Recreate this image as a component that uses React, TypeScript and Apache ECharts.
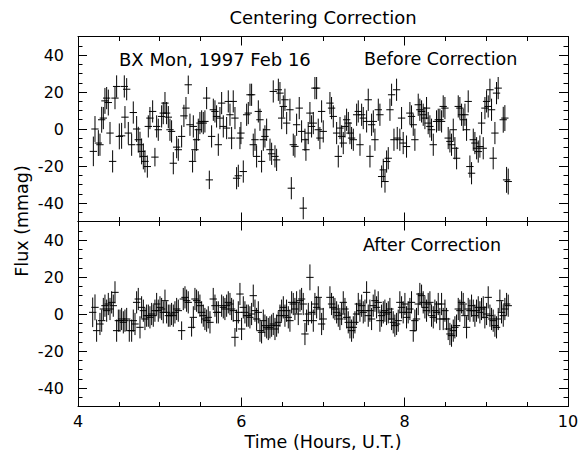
import React, { useEffect, useRef } from "react";
import * as echarts from "echarts";

// [time (hours UT), flux (mmag), error (mmag)]
const before: [number, number, number][] = [
  [4.188,-12.1,8],[4.208,0,7],[4.249,-7.6,7],[4.269,-8.5,6],[4.290,5.0,7],[4.310,5.9,6],[4.330,15.2,7],[4.351,16.7,6],[4.371,14.3,7],[4.392,-2.2,6],
  [4.424,-17.5,6],[4.453,16.7,6],[4.473,23.0,6],[4.506,-4.0,7],[4.534,-3.7,7],[4.567,23.0,6],[4.575,6.4,6],[4.596,21.5,6],[4.616,-2.2,6],[4.657,-8.5,6],
  [4.677,8.9,6],[4.718,0,7],[4.738,-5.8,7],[4.759,-8.5,7],[4.779,-12.1,7],[4.800,-14.8,7],[4.820,-17.5,6],[4.849,-20.3,6],[4.861,1.4,6],[4.881,5.9,6],
  [4.914,9.5,6],[4.942,-15.2,5],[4.963,1.4,6],[4.983,-0.4,6],[5.024,6.8,6],[5.044,8.6,6],[5.065,14.0,6],[5.085,8.6,6],[5.106,6.4,6],[5.126,-0.4,6],
  [5.146,-1.3,6],[5.167,-18.5,6],[5.208,-9.8,6],[5.228,-11.2,6],
  [5.269,-4.0,6],[5.297,7.1,6],[5.322,11.3,6],[5.350,23.9,5],[5.371,2.3,6],[5.403,-17.5,6],[5.412,1.4,6],[5.432,-11.2,6],[5.452,-5.8,6],[5.473,-0.4,6],
  [5.493,3.2,6],[5.514,4.1,6],[5.534,3.2,6],[5.554,4.1,6],[5.575,16.7,6],[5.608,-27.5,5],[5.636,-4.0,6],[5.657,10.4,6],[5.677,9.5,6],[5.697,6.8,6],
  [5.718,-8.5,6],[5.738,5.9,6],[5.759,14.0,6],[5.779,1.4,6],[5.820,0.5,6],[5.840,14.9,6],[5.861,7.7,6],[5.881,-4.9,6],[5.901,14.9,6],[5.922,5.9,6],
  [5.942,-26.6,6],[5.963,-25.3,6],[5.983,-4.9,6],[5.995,-2.2,6],[6.024,-23.0,6],[6.065,7.7,6],[6.085,8.6,6],[6.106,18.5,6],[6.126,18.5,6],[6.146,-8.5,6],
  [6.167,-5.8,6],[6.187,-14.8,6],[6.208,9.5,6],[6.228,5.0,6],[6.248,-17.5,6],[6.269,-5.8,6],[6.289,-4.0,6],[6.310,-0.4,6],[6.351,-11.2,6],[6.371,-13.4,6],
  [6.391,20.3,6],[6.412,-14.8,6],[6.432,-16.7,6],[6.453,21.2,6],[6.473,19.4,6],[6.494,5.9,6],[6.514,12.2,6],[6.534,15.8,6],[6.555,3.2,6],[6.612,-32.0,6],
  [6.595,10.4,6],[6.636,-8.5,6],[6.656,-9.4,6],[6.677,2.3,6],[6.709,11.3,6],[6.738,-1.3,6],[6.758,-42.8,6],[6.779,-5.8,6],[6.791,-11.2,6],[6.819,-2.2,6],
  [6.840,8.6,6],[6.860,1.4,6],[6.881,3.2,6],[6.901,22.1,6],[6.922,22.1,6],[6.942,-0.4,6],[6.962,-4.9,6],[6.983,9.5,6],[7.003,-1.3,6],[7.085,14.0,6],
  [7.105,11.3,6],[7.126,6.8,6],[7.167,-2.2,6],[7.187,-14.8,6],[7.208,0.5,6],[7.228,-4.0,6],[7.248,-7.6,6],[7.269,1.4,6],[7.289,5.0,6],[7.310,3.2,6],
  [7.330,-2.2,6],[7.350,-4.9,6],[7.371,-5.8,6],[7.412,7.7,6],[7.432,9.5,6],[7.453,-8.5,6],[7.473,7.7,6],[7.493,5.9,6],[7.534,4.1,6],[7.554,15.8,6],
  [7.575,-14.8,6],[7.595,2.3,6],[7.616,4.1,6],[7.636,-5.8,6],[7.677,10.4,6],[7.697,7.7,6],[7.718,-25.7,6],[7.738,-22.1,6],[7.759,-28.4,6],[7.779,-17.6,6],
  [7.799,-15.8,6],[7.820,10.4,6],[7.840,18.5,6],[7.869,-5.8,6],[7.901,21.2,6],[7.909,-4.9,6],
  [7.941,-5.8,6],[7.962,5.9,6],[7.982,-7.6,6],[8.023,-9.5,6],[8.064,8.6,6],[8.084,6.8,6],[8.105,2.3,6],[8.125,-5.8,6],[8.166,13.1,6],[8.186,10.4,6],
  [8.207,9.5,6],[8.227,7.7,6],[8.248,5.9,6],[8.268,11.3,6],[8.288,3.2,6],[8.309,1.4,6],[8.329,-0.4,6],[8.350,-8.5,6],[8.390,4.1,6],[8.411,5.0,6],
  [8.431,5.0,6],[8.452,4.1,6],[8.472,12.2,6],[8.493,11.3,6],[8.533,-4.9,6],[8.554,-6.7,6],[8.574,-8.5,6],[8.595,-0.4,6],[8.615,-10.4,6],[8.636,-15.8,6],
  [8.656,12.2,6],[8.676,11.3,6],[8.697,7.7,6],[8.717,5.0,6],[8.738,7.7,6],[8.758,-0.4,6],[8.778,14.9,6],[8.799,-20.3,6],[8.819,-23.9,6],[8.840,-5.8,6],
  [8.860,-7.6,6],[8.881,-10.4,6],[8.901,-12.2,6],[8.921,-9.5,6],[8.942,3.2,6],[8.962,-10.4,6],[8.983,11.3,6],[9.003,14.9,6],[9.023,12.2,6],[9.044,21.2,6],
  [9.064,10.4,6],[9.084,-15.8,6],[9.105,-2.2,6],[9.125,19.4,6],[9.145,22.1,6],[9.207,5.0,7],[9.227,5.9,7],[9.248,-27.5,7],[9.268,-28.4,7],
];

const after: [number, number, number][] = [
  [4.180,0.9,8],[4.208,3.6,7],[4.228,-9.0,6],[4.269,-5.4,6],[4.290,-3.6,6],[4.310,2.7,6],[4.330,4.5,6],[4.351,1.8,6],[4.371,5.4,6],[4.392,2.7,6],
  [4.412,6.3,6],[4.432,4.5,6],[4.453,11.7,6],[4.473,-9.0,6],[4.494,-3.6,6],[4.514,-3.6,6],[4.534,-2.7,6],[4.555,-4.5,6],[4.575,-3.6,6],[4.596,-2.7,6],
  [4.628,-9.0,6],[4.657,-9.0,6],[4.677,-3.6,6],[4.698,-5.4,6],[4.718,6.3,6],[4.738,8.1,6],[4.759,-7.2,6],[4.779,3.6,6],[4.800,1.8,6],[4.820,-2.7,6],
  [4.840,-0.9,6],[4.861,-0.9,6],[4.881,-1.8,6],[4.902,0,6],[4.922,-0.9,6],[4.942,1.8,6],[4.963,5.4,6],[4.983,1.8,6],[5.004,3.6,6],[5.024,2.7,6],
  [5.044,0.9,6],[5.065,7.2,6],[5.085,0.9,6],[5.106,-0.9,6],[5.126,-0.9,6],[5.146,0,6],[5.167,-0.9,6],[5.187,0.9,6],[5.208,2.7,6],[5.228,1.8,6],
  [5.269,-9.0,5],[5.289,8.1,6],[5.310,9.0,6],[5.330,7.2,6],[5.350,6.3,6],[5.391,-7.2,5],[5.412,-1.8,6],[5.432,8.1,6],[5.452,7.2,6],[5.473,6.3,6],
  [5.493,4.5,6],[5.514,0.9,6],[5.534,-0.9,6],[5.554,-2.7,6],[5.575,-3.6,6],[5.595,-1.8,6],[5.616,-4.5,6],[5.656,8.1,6],[5.677,4.5,6],[5.697,0.9,6],
  [5.718,0.9,6],
  [5.759,4.5,6],[5.779,3.6,6],[5.799,2.7,6],[5.820,4.5,6],[5.840,6.3,6],[5.861,5.4,6],[5.881,2.7,6],[5.901,1.8,6],[5.922,-12.6,5],[5.942,-3.6,6],
  [5.963,0.9,6],[5.983,10.8,6],[6.003,-8.1,6],[6.024,3.6,6],[6.044,0.9,6],[6.065,-0.9,6],[6.085,-0.9,6],[6.105,-1.8,6],[6.126,0,6],[6.146,9.9,6],
  [6.167,1.8,6],[6.187,-2.7,6],[6.208,0.9,6],[6.228,-9.0,6],[6.248,-9.9,6],[6.269,-3.6,6],[6.289,-6.3,6],[6.310,-7.2,6],[6.330,-8.1,6],[6.350,-7.2,6],
  [6.371,-6.3,6],[6.391,-5.4,6],[6.412,-8.1,6],[6.432,-6.3,6],[6.452,-4.5,6],[6.473,-0.9,6],[6.493,1.8,6],[6.514,3.6,6],[6.534,-0.9,6],[6.554,1.8,6],
  [6.575,-1.8,6],[6.595,-3.6,6],[6.616,6.3,6],[6.636,5.4,6],[6.656,2.7,6],[6.677,6.3,6],[6.697,0,6],[6.718,7.2,6],[6.738,8.1,6],[6.758,5.4,6],
  [6.779,-10.8,6],[6.799,-3.6,6],[6.820,0,6],[6.840,19.8,7],[6.860,0.9,6],[6.881,-3.6,6],[6.901,5.4,6],[6.922,3.6,6],[6.942,9.0,6],[6.962,2.7,6],
  [6.983,-5.4,6],[7.003,-2.7,6],[7.085,9.0,6],[7.105,5.4,6],[7.126,3.6,6],[7.146,2.7,6],[7.167,0.9,6],[7.187,-0.9,6],[7.207,-2.7,6],[7.228,0,6],
  [7.248,6.3,6],[7.269,2.7,6],[7.289,-1.8,6],[7.309,-4.5,6],[7.330,-7.2,6],[7.350,-9.0,6],[7.371,-7.2,6],[7.391,-4.5,6],[7.411,0,6],[7.432,5.4,6],
  [7.452,1.8,6],[7.473,4.5,6],[7.493,0.9,6],[7.514,1.8,6],[7.534,11.7,6],[7.554,-0.9,6],
  [7.574,1.8,6],[7.595,-2.7,6],[7.615,4.5,6],[7.636,7.2,6],[7.656,3.6,6],[7.676,6.3,6],[7.697,-3.6,6],[7.717,-0.9,6],[7.738,0.9,6],[7.758,1.8,6],
  [7.778,0,6],[7.799,0.9,6],[7.819,2.7,6],[7.840,-2.7,6],[7.860,-4.5,6],[7.880,-6.3,6],[7.901,-5.4,6],[7.921,-3.6,6],[7.941,6.3,6],[7.962,3.6,6],
  [7.982,0.9,6],[8.003,5.4,6],[8.023,-1.8,6],[8.043,0.9,6],[8.064,2.7,6],[8.084,6.3,6],[8.105,-9.0,6],[8.125,-3.6,6],[8.145,-2.7,6],[8.166,5.4,6],
  [8.186,10.8,6],[8.207,9.9,6],[8.227,6.3,6],[8.248,3.6,6],[8.268,1.8,6],[8.288,5.4,6],[8.309,6.3,6],[8.329,-0.9,6],[8.350,-1.8,6],[8.370,1.8,6],
  [8.390,0.9,6],[8.411,5.4,6],[8.431,-2.7,6],[8.452,5.4,6],[8.472,-2.7,6],[8.493,1.8,6],[8.513,-2.7,6],[8.533,-8.1,6],[8.554,-10.8,6],[8.574,-11.7,6],
  [8.595,-9.0,6],[8.615,-7.2,6],[8.635,-6.3,6],[8.656,2.7,6],[8.676,1.8,6],[8.697,6.3,6],[8.717,5.4,6],[8.737,-0.9,6],[8.758,-7.2,6],[8.778,2.7,6],
  [8.799,1.8,6],[8.819,4.5,6],[8.840,1.8,6],[8.860,-0.9,6],[8.880,1.8,6],[8.901,3.6,6],[8.921,0.9,6],[8.941,2.7,6],[8.962,3.6,6],[8.982,-1.8,6],
  [9.003,0,6],[9.023,9.0,6],[9.044,-0.9,6],[9.064,-2.7,6],[9.084,-3.6,6],[9.105,-6.3,6],[9.125,-7.2,6],[9.146,-2.7,6],[9.166,7.2,6],[9.186,0.9,6],
  [9.207,-0.9,6],[9.227,2.7,6],[9.248,5.4,6],[9.268,4.5,6],
];

const xTicks = { min: 4, max: 10, interval: 2 };
const yRange = { min: -50, max: 50 };
const yLabelRange = { min: -40, max: 40, interval: 20 };

const TITLE = "Centering Correction";
const STAR = "BX Mon, 1997 Feb 16";
const TOP_LABEL = "Before Correction";
const BOTTOM_LABEL = "After Correction";
const X_NAME = "Time (Hours, U.T.)";
const Y_NAME = "Flux (mmag)";

const XERR = 0.045;
const FONT = "DejaVu Sans";

const LEFT = 78;
const WIDTH = 490;
const TOP1 = 36.5;
const H = 185;
const TOP2 = TOP1 + H;
const LBL_OFF = H * 0.1;
const LBL_H = H * 0.8;

function renderCross(params: any, api: any) {
  const t = api.value(0);
  const v = api.value(1);
  const e = api.value(2);
  const l = api.coord([t - XERR, v]);
  const r = api.coord([t + XERR, v]);
  const a = api.coord([t, v + e]);
  const b = api.coord([t, v - e]);
  const style = { stroke: "#000", lineWidth: 1 };
  return {
    type: "group",
    children: [
      { type: "line", shape: { x1: l[0], y1: l[1], x2: r[0], y2: r[1] }, style },
      { type: "line", shape: { x1: a[0], y1: a[1], x2: b[0], y2: b[1] }, style },
    ],
  };
}

export default function App() {
  const ref = useRef<HTMLDivElement>(null);
  useEffect(() => {
    if (!ref.current) return;
    const chart = echarts.init(ref.current, undefined, { renderer: "svg" });
    const axisLine = { show: true, onZero: false, lineStyle: { color: "#000", width: 1 } };
    const xTickAxis = (grid: number, pos: string, labels: boolean) => ({
      type: "value",
      gridIndex: grid,
      position: pos,
      min: xTicks.min,
      max: xTicks.max,
      interval: xTicks.interval,
      axisLine,
      axisTick: { show: true, inside: true, length: 9, lineStyle: { color: "#000" } },
      minorTick: { show: true, splitNumber: 4, length: 4.5, lineStyle: { color: "#000" } },
      splitLine: { show: false },
      axisLabel: labels
        ? { show: true, color: "#000", fontFamily: FONT, fontSize: 16, margin: 7 }
        : { show: false },
    });
    const yMinorAxis = (grid: number, pos: string) => ({
      type: "value",
      gridIndex: grid,
      position: pos,
      min: yRange.min,
      max: yRange.max,
      interval: 5,
      axisLine,
      axisTick: { show: true, inside: true, length: 4.5, lineStyle: { color: "#000" } },
      splitLine: { show: false },
      axisLabel: { show: false },
    });
    const yMajorAxis = (grid: number, pos: string, labels: boolean) => ({
      type: "value",
      gridIndex: grid,
      position: pos,
      min: yLabelRange.min,
      max: yLabelRange.max,
      interval: yLabelRange.interval,
      axisLine: { show: false, onZero: false },
      axisTick: { show: true, inside: true, length: 9, lineStyle: { color: "#000" } },
      splitLine: { show: false },
      axisLabel: labels
        ? { show: true, color: "#000", fontFamily: FONT, fontSize: 16, margin: 14 }
        : { show: false },
    });
    const option: any = {
      animation: false,
      backgroundColor: "#fff",
      grid: [
        { left: LEFT, top: TOP1, width: WIDTH, height: H },
        { left: LEFT, top: TOP2, width: WIDTH, height: H },
        { left: LEFT, top: TOP1 + LBL_OFF, width: WIDTH, height: LBL_H },
        { left: LEFT, top: TOP2 + LBL_OFF, width: WIDTH, height: LBL_H },
      ],
      xAxis: [
        xTickAxis(0, "bottom", false),
        xTickAxis(0, "top", false),
        xTickAxis(1, "bottom", true),
        xTickAxis(1, "top", false),
        { type: "value", gridIndex: 2, min: xTicks.min, max: xTicks.max, show: false },
        { type: "value", gridIndex: 3, min: xTicks.min, max: xTicks.max, show: false },
      ],
      yAxis: [
        yMinorAxis(0, "left"),
        yMinorAxis(0, "right"),
        yMinorAxis(1, "left"),
        yMinorAxis(1, "right"),
        yMajorAxis(2, "left", true),
        yMajorAxis(2, "right", false),
        yMajorAxis(3, "left", true),
        yMajorAxis(3, "right", false),
      ],
      series: [
        {
          type: "custom",
          xAxisIndex: 0,
          yAxisIndex: 0,
          data: before,
          encode: { x: 0, y: 1 },
          renderItem: renderCross,
          clip: true,
        },
        {
          type: "custom",
          xAxisIndex: 2,
          yAxisIndex: 2,
          data: after,
          encode: { x: 0, y: 1 },
          renderItem: renderCross,
          clip: true,
        },
      ],
      graphic: [
        { type: "text", x: 323, y: 17, style: { text: TITLE, fill: "#000", font: `18px '${FONT}'`, align: "center", verticalAlign: "middle" } },
        { type: "text", x: 119, y: 59, style: { text: STAR, fill: "#000", font: `18px '${FONT}'`, align: "left", verticalAlign: "middle" } },
        { type: "text", x: 364, y: 59, style: { text: TOP_LABEL, fill: "#000", font: `17.5px '${FONT}'`, align: "left", verticalAlign: "middle" } },
        { type: "text", x: 363, y: 245, style: { text: BOTTOM_LABEL, fill: "#000", font: `17.5px '${FONT}'`, align: "left", verticalAlign: "middle" } },
        { type: "text", x: 323, y: 442, style: { text: X_NAME, fill: "#000", font: `17.5px '${FONT}'`, align: "center", verticalAlign: "middle" } },
        { type: "text", x: 22, y: 221, rotation: Math.PI / 2, style: { text: Y_NAME, fill: "#000", font: `17.5px '${FONT}'`, align: "center", verticalAlign: "middle" } },
      ],
    };
    chart.setOption(option);
    return () => chart.dispose();
  }, []);
  return <div ref={ref} style={{ width: 583, height: 453, position: "absolute", left: 0, top: 0 }} />;
}
